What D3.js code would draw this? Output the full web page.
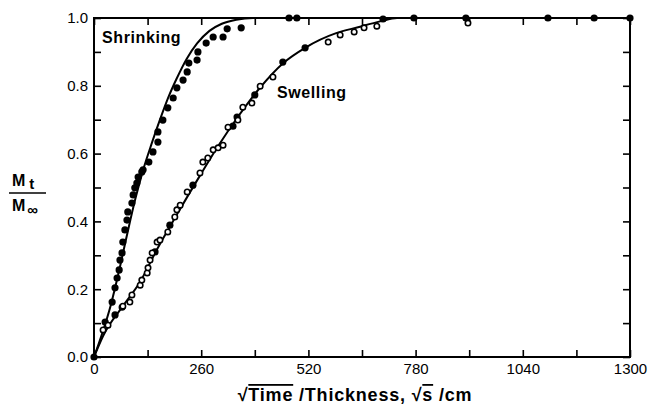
<!DOCTYPE html>
<html><head><meta charset="utf-8">
<script src="https://cdn.jsdelivr.net/npm/d3@7"></script>
<style>
html,body{margin:0;padding:0;background:#fff;}
text{font-family:"Liberation Sans",Arial,Helvetica,sans-serif;fill:#000;}
</style></head>
<body><svg id="c" width="650" height="414"></svg>
<script>
// ---- data ----
const xTickValues = [0,130,260,390,520,650,780,910,1040,1170,1300];
const xTickLabels = ["0","","260","","520","","780","","1040","","1300"];
const yTickValues = [0,0.1,0.2,0.3,0.4,0.5,0.6,0.7,0.8,0.9,1.0];
const yTickLabels = ["0.0","","0.2","","0.4","","0.6","","0.8","","1.0"];

const shrinkX = [0,27,44,51,56,61,63,68,70,75,80,82,92,95,99,104,107,116,119,133,143,155,155,167,179,192,201,216,226,230,250,252,272,289,313,323,357,473,492,776,902,1101,1213,1300];
const shrinkY = [0,0.103,0.162,0.204,0.233,0.257,0.286,0.307,0.339,0.375,0.404,0.428,0.454,0.478,0.499,0.513,0.531,0.546,0.552,0.575,0.605,0.634,0.664,0.699,0.735,0.764,0.794,0.817,0.841,0.867,0.876,0.900,0.926,0.944,0.944,0.968,0.971,1.0,1.0,1.0,1.0,1.0,1.0,1.0];

const swellOpenX = [22,34,68,70,87,92,112,116,129,131,136,141,153,160,179,196,201,209,226,257,264,276,289,301,313,325,349,361,383,403,434,568,597,631,655,686,907];
const swellOpenY = [0.080,0.094,0.147,0.150,0.162,0.183,0.212,0.227,0.248,0.263,0.286,0.307,0.339,0.345,0.369,0.413,0.434,0.448,0.487,0.543,0.575,0.587,0.611,0.617,0.625,0.678,0.699,0.737,0.749,0.799,0.826,0.929,0.950,0.959,0.971,0.976,0.985];
const swellFilledX = [51,148,184,240,337,347,390,458,512,701];
const swellFilledY = [0.124,0.310,0.389,0.507,0.681,0.708,0.773,0.870,0.912,0.997];

const shrinkCurveX = [0,20,40,60,80,100,120,140,160,180,200,225,250,280,310,345,386,1300];
const shrinkCurveY = [0,0.07,0.15,0.25,0.36,0.465,0.555,0.63,0.70,0.765,0.82,0.88,0.925,0.962,0.983,0.995,1.0,1.0];
const swellCurveX = [0,22,70,112,153,201,257,300,347,403,458,512,589,638,694,735,1300];
const swellCurveY = [0,0.062,0.150,0.222,0.318,0.420,0.535,0.620,0.705,0.795,0.866,0.912,0.956,0.972,0.990,1.0,1.0];

// ---- chart ----
const svg = d3.select("#c");
const x = d3.scaleLinear().domain([0,1300]).range([94,630]);
const y = d3.scaleLinear().domain([0,1]).range([357,18]);

function styleAxis(g){
  g.select(".domain").remove();
  g.selectAll(".tick line").attr("stroke","#000").attr("stroke-width",1.6);
  g.selectAll(".tick text").attr("font-size",15).attr("fill","#000");
}

svg.append("g").attr("transform","translate(0,357)")
  .call(d3.axisBottom(x).tickValues(xTickValues).tickSize(-7).tickPadding(6)
    .tickFormat((d,i)=>xTickLabels[i]))
  .call(styleAxis);
svg.append("g").attr("transform","translate(0,18)")
  .call(d3.axisTop(x).tickValues(xTickValues).tickSize(-7).tickFormat(""))
  .call(styleAxis);
svg.append("g").attr("transform","translate(94,0)")
  .call(d3.axisLeft(y).tickValues(yTickValues).tickSize(-7).tickPadding(6)
    .tickFormat((d,i)=>yTickLabels[i]))
  .call(styleAxis);
svg.append("g").attr("transform","translate(630,0)")
  .call(d3.axisRight(y).tickValues(yTickValues).tickSize(-7).tickFormat(""))
  .call(styleAxis);

svg.append("rect").attr("x",x(0)).attr("y",y(1)).attr("width",x(1300)-x(0)).attr("height",y(0)-y(1))
  .attr("fill","none").attr("stroke","#000").attr("stroke-width",2);

const line = d3.line().x(d=>x(d[0])).y(d=>y(d[1])).curve(d3.curveMonotoneX);
svg.append("path").datum(shrinkCurveX.map((v,i)=>[v,shrinkCurveY[i]]))
  .attr("d",line).attr("fill","none").attr("stroke","#000").attr("stroke-width",2);
svg.append("path").datum(swellCurveX.map((v,i)=>[v,swellCurveY[i]]))
  .attr("d",line).attr("fill","none").attr("stroke","#000").attr("stroke-width",2);

svg.append("g").selectAll("circle").data(shrinkX.map((v,i)=>[v,shrinkY[i]])).join("circle")
  .attr("cx",d=>x(d[0])).attr("cy",d=>y(d[1])).attr("r",3.6).attr("fill","#000");
svg.append("g").selectAll("circle").data(swellFilledX.map((v,i)=>[v,swellFilledY[i]])).join("circle")
  .attr("cx",d=>x(d[0])).attr("cy",d=>y(d[1])).attr("r",3.6).attr("fill","#000");
svg.append("g").selectAll("circle").data(swellOpenX.map((v,i)=>[v,swellOpenY[i]])).join("circle")
  .attr("cx",d=>x(d[0])).attr("cy",d=>y(d[1])).attr("r",2.7).attr("fill","#fff")
  .attr("stroke","#000").attr("stroke-width",1.6);

// labels
svg.append("text").attr("x",102).attr("y",43).attr("font-size",16).attr("font-weight","bold")
  .attr("letter-spacing",0.6).text("Shrinking");
svg.append("text").attr("x",277).attr("y",98).attr("font-size",16).attr("font-weight","bold")
  .attr("letter-spacing",0.6).text("Swelling");

// y-axis fraction label
const fr = svg.append("g");
const t1 = fr.append("text").attr("x",12).attr("y",186).attr("font-size",16).attr("font-weight","bold");
t1.append("tspan").text("M");
t1.append("tspan").attr("dx",4).attr("dy",3).attr("font-size",15).text("t");
fr.append("line").attr("x1",9).attr("x2",46).attr("y1",193).attr("y2",193).attr("stroke","#000").attr("stroke-width",1.6);
const t2 = fr.append("text").attr("x",12).attr("y",211).attr("font-size",16).attr("font-weight","bold");
t2.append("tspan").text("M");
t2.append("tspan").attr("dx",2).attr("dy",4).attr("font-size",15).text("∞");

// x-axis title
const tt = svg.append("text").attr("x",355).attr("y",401).attr("text-anchor","middle")
  .attr("font-size",18).attr("font-weight","bold").attr("letter-spacing",0.8);
tt.append("tspan").text("√");
tt.append("tspan").attr("text-decoration","overline").text("Time");
tt.append("tspan").text(" /Thickness, √");
tt.append("tspan").attr("text-decoration","overline").text("s");
tt.append("tspan").text(" /cm");
</script></body></html>
